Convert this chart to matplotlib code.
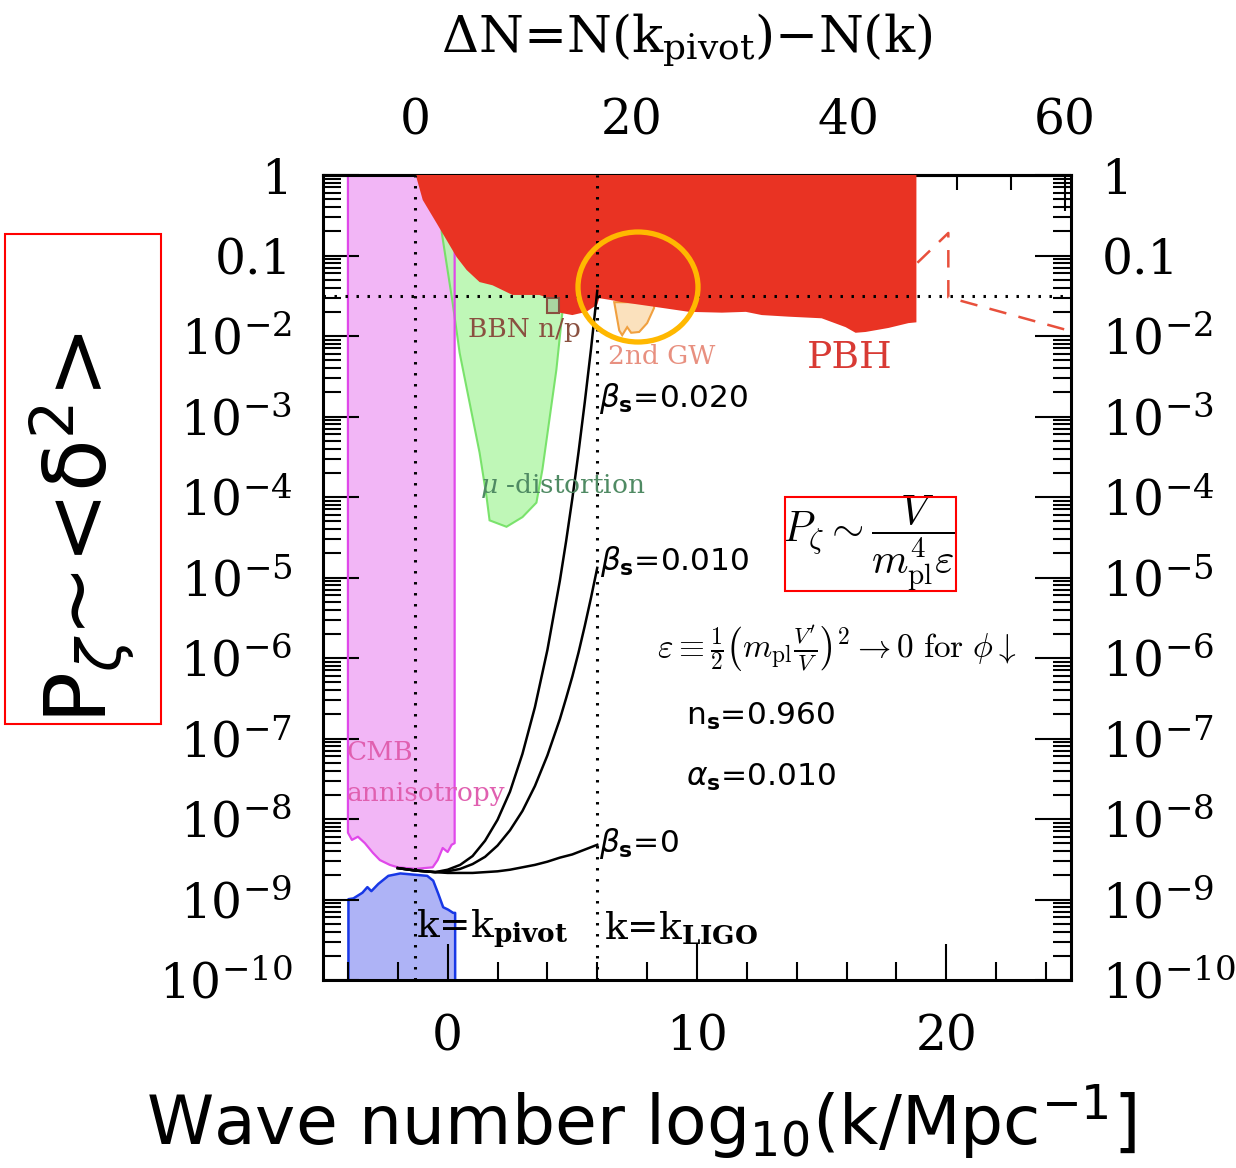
import matplotlib
matplotlib.use("Agg")
import matplotlib.pyplot as plt
import matplotlib.ticker as ticker
from matplotlib.patches import Rectangle, Ellipse
import numpy as np

plt.rcParams['font.family'] = 'DejaVu Serif'
plt.rcParams['mathtext.fontset'] = 'dejavuserif'

# ---- data: x = log10(k/Mpc^-1), y = log10(P_zeta) ----
# CMB anisotropy (upper band), lower edge
cmb_x = [-4.0, -3.84, -3.6, -3.32, -3.0, -2.72, -2.32, -2.0, -1.3, -0.6, -0.4, -0.2, 0.0, 0.16, 0.28]
cmb_lo = [-8.17, -8.26, -8.22, -8.30, -8.42, -8.51, -8.57, -8.60, -8.62, -8.60, -8.51, -8.36, -8.41, -8.32, -8.30]

# lower blue band, upper edge
blue_x = [-4.0, -3.8, -3.44, -3.24, -3.08, -2.8, -2.4, -1.92, -0.84, -0.6, -0.4, -0.2, 0.0, 0.2, 0.28]
blue_hi = [-8.99, -8.98, -8.91, -8.84, -8.89, -8.80, -8.70, -8.67, -8.70, -8.76, -8.92, -9.09, -9.12, -9.16, -9.16]

# mu-distortion (closed outline)
mu_x = [-0.24, 0.2, 0.48, 0.88, 1.28, 1.56, 1.68, 2.36, 3.0, 3.56, 3.8, 4.08, 4.36, 4.6, 4.6, -0.24]
mu_y = [-0.71, -1.59, -2.21, -2.83, -3.45, -4.0, -4.29, -4.37, -4.25, -4.07, -3.66, -3.04, -2.42, -1.71, -1.2, -0.6]

# BBN n/p box
bbn_x = [4.0, 4.48, 4.48, 4.0, 4.0]
bbn_y = [-1.53, -1.53, -1.71, -1.71, -1.53]

# 2nd order GW
gw_x = [6.68, 6.88, 7.0, 7.2, 7.36, 7.68, 8.0, 8.28, 8.28]
gw_y = [-1.58, -1.93, -1.99, -1.89, -1.96, -1.95, -1.84, -1.65, -1.58]

# PBH lower edge
pbh_x = [-1.28, -1.0, -0.44, -0.04, 0.36, 0.76, 1.28, 1.8, 2.6, 3.68, 3.96, 4.48, 5.0, 5.56,
         6.0, 6.08, 6.48, 7.0, 8.36, 9.68, 11.0, 11.96, 12.6, 13.68, 15.0, 15.96, 16.36,
         16.76, 17.68, 18.48, 18.8]
pbh_lo = [0.0, -0.31, -0.60, -0.81, -1.02, -1.18, -1.33, -1.37, -1.49, -1.49, -1.52, -1.71, -1.74, -1.70,
          -1.61, -1.53, -1.55, -1.58, -1.64, -1.70, -1.71, -1.70, -1.74, -1.76, -1.78, -1.89, -1.96,
          -1.95, -1.90, -1.84, -1.83]

# PBH dashed extension
pbhd_x = [18.84, 20.08, 20.08, 24.88]
pbhd_y = [-1.09, -0.72, -1.52, -1.93]

# running spectra, n_s=0.960, alpha_s=0.010
run_x = [-2.0, -1.3, -0.5, 0.0, 0.5, 1.0, 1.5, 2.0, 2.5, 3.0, 3.5, 4.0, 4.5, 4.75, 5.0, 5.25, 5.5, 5.75, 6.0]
beta0 = [-8.61, -8.64, -8.66, -8.67, -8.67, -8.67, -8.66, -8.65, -8.63, -8.60, -8.57, -8.53, -8.48, -8.46,
         -8.44, -8.41, -8.38, -8.35, -8.32]
beta1 = [-8.61, -8.64, -8.66, -8.65, -8.62, -8.56, -8.47, -8.33, -8.14, -7.90, -7.59, -7.21, -6.76, -6.50,
         -6.23, -5.93, -5.60, -5.25, -4.88]
beta2 = [-8.61, -8.64, -8.66, -8.63, -8.57, -8.46, -8.27, -8.01, -7.66, -7.19, -6.61, -5.90, -5.04, -4.55,
         -4.02, -3.44, -2.82, -2.16, -1.44]

k_pivot = -1.3
k_ligo = 6.0
p_line = -1.5


def P(v):
    return 10.0 ** np.asarray(v)


W, H = 1236, 1168
fig = plt.figure(figsize=(W / 100, H / 100), dpi=100)
ax = fig.add_axes([323 / W, 1 - 980 / H, (1071 - 323) / W, (980 - 175) / H])
ax.set_yscale('log')
ax.set_xlim(-5, 25)
ax.set_ylim(1e-10, 1)

# regions
ax.fill_between(cmb_x, P(cmb_lo), 1.0, facecolor='#f2b6f6', edgecolor='none', zorder=1)
ax.fill_between(blue_x, 1e-10, P(blue_hi), facecolor='#aeb3f6', edgecolor='#1838e6', lw=1.8, zorder=1)
ax.fill(mu_x, P(mu_y), facecolor='#b8f7b0', edgecolor='#6fe060', lw=1.5, alpha=0.9, zorder=2)
ax.plot([cmb_x[0]] + cmb_x + [cmb_x[-1]], [1.0] + list(P(cmb_lo)) + [1.0], color='#e048ea', lw=1.6, zorder=2)
ax.fill(gw_x, P(gw_y), facecolor='#fbe1bd', edgecolor='#f0a040', lw=1.5, zorder=2)
ax.fill_between(pbh_x, P(pbh_lo), 1.0, facecolor='#e93323', edgecolor='none', zorder=3)
ax.fill(bbn_x, P(bbn_y), facecolor='#a9d5a0', edgecolor='#8a5040', lw=1.5, zorder=3)
ax.plot(pbhd_x, P(pbhd_y), color='#e8503c', lw=1.8, dashes=(7, 5), zorder=3)

# dotted guides
dot = dict(color='black', lw=2.2, linestyle=(0, (0.8, 2.8)), zorder=4)
ax.axvline(k_pivot, **dot)
ax.axvline(k_ligo, **dot)
ax.axhline(10 ** p_line, **dot)

# spectra
for b in (beta0, beta1, beta2):
    ax.plot(run_x, P(b), color='black', lw=1.8, zorder=5)

# ticks
ax.xaxis.set_major_locator(ticker.MultipleLocator(10))
ax.xaxis.set_minor_locator(ticker.MultipleLocator(2))
ax.yaxis.set_major_locator(ticker.LogLocator(base=10, numticks=20))
ax.yaxis.set_minor_locator(ticker.LogLocator(base=10, subs=np.arange(2, 10), numticks=20))
ax.yaxis.set_minor_formatter(ticker.NullFormatter())


def ylab(v, pos):
    e = int(round(np.log10(v)))
    if e == 0:
        return '1'
    if e == -1:
        return '0.1'
    return r'$10^{%d}$' % e


ax.yaxis.set_major_formatter(ticker.FuncFormatter(ylab))
ax.xaxis.set_major_formatter(ticker.FuncFormatter(lambda v, p: '%d' % v))
ax.tick_params(which='both', direction='in', left=True, right=True, top=False, bottom=True,
               labelright=True, labelsize=35, width=1.5)
ax.tick_params(which='major', length=26)
ax.tick_params(which='minor', length=13)
ax.tick_params(axis='y', pad=22)
ax.tick_params(axis='x', pad=24)
for s in ax.spines.values():
    s.set_linewidth(2.2)

top = ax.secondary_xaxis('top', functions=(lambda x: np.log(10) * (x - k_pivot),
                                           lambda n: n / np.log(10) + k_pivot))
top.xaxis.set_major_locator(ticker.MultipleLocator(20))
top.xaxis.set_minor_locator(ticker.MultipleLocator(5))
top.xaxis.set_major_formatter(ticker.FuncFormatter(lambda v, p: '%d' % v))
top.tick_params(which='both', direction='in', labelsize=35, width=1.5, pad=22)
top.tick_params(which='major', length=26)
top.tick_params(which='minor', length=11)
top.spines['top'].set_linewidth(2.2)

# annotations
ax.text(0.8, 10 ** -1.92, 'BBN n/p', color='#8a5040', fontsize=19, va='center', zorder=6)
ax.text(6.45, 10 ** -2.25, '2nd GW', color='#e89080', fontsize=19, va='center', zorder=6)
ax.text(14.4, 10 ** -2.27, 'PBH', color='#d83a34', fontsize=27, va='center', zorder=6)
ax.text(1.28, 10 ** -3.86, r'$\mu$ -distortion', color='#4f8a63', fontsize=19, va='center', zorder=6)
ax.text(-4.05, 10 ** -7.18, 'CMB', color='#e060b0', fontsize=19, va='center', zorder=6)
ax.text(-4.05, 10 ** -7.68, 'annisotropy', color='#e060b0', fontsize=19, va='center', zorder=6)

sans = dict(family='DejaVu Sans', math_fontfamily='dejavusans', fontsize=22.5, va='center', zorder=6)
ax.text(6.05, 10 ** -2.78, r'$\beta_\mathbf{s}$=0.020', **sans)
ax.text(6.1, 10 ** -4.8, r'$\beta_\mathbf{s}$=0.010', **sans)
ax.text(6.05, 10 ** -8.3, r'$\beta_\mathbf{s}$=0', **sans)
ax.text(9.55, 10 ** -6.72, r'n$_\mathbf{s}$=0.960', **sans)
ax.text(9.55, 10 ** -7.48, r'$\alpha_\mathbf{s}$=0.010', **sans)

ax.text(-1.25, 10 ** -9.37, r'k=k$_\mathbf{pivot}$', fontsize=27, va='center', zorder=6)
ax.text(6.25, 10 ** -9.37, r'k=k$_\mathbf{LIGO}$', fontsize=27, va='center', zorder=6)

ax.text(16.9, 10 ** -4.58, r'$P_\zeta \sim \dfrac{V}{m_{\rm pl}^4\varepsilon}$', math_fontfamily='cm',
        fontsize=30, ha='center', va='center', zorder=6)
ax.text(8.4, 10 ** -5.9, r'$\varepsilon \equiv \frac{1}{2}\left(m_{\rm pl}\frac{V^\prime}{V}\right)^2 \rightarrow 0\ {\rm for}\ \phi\downarrow$',
        math_fontfamily='cm', fontsize=24, va='center', zorder=6)

fig.add_artist(Rectangle((785 / W, 1 - 591 / H), 171 / W, 94 / H, transform=fig.transFigure,
                         fill=False, edgecolor='red', lw=1.5))
fig.add_artist(Ellipse((638 / W, 1 - 287 / H), 120 / W, 110 / H, transform=fig.transFigure,
                       fill=False, edgecolor='#ffb800', lw=3.8, zorder=10))

# axis titles
fig.text(687 / W, 1 - 40 / H, r'$\Delta$N=N(k$_{\rm pivot}$)$-$N(k)', fontsize=37, ha='center', va='center')
fig.text(641 / W, 1 - 1122 / H, r'Wave number log$_{10}$(k/Mpc$^{-1}$]', family='DejaVu Sans',
         math_fontfamily='dejavusans', fontsize=49, ha='center', va='center')
fig.text(82 / W, 1 - 528 / H, r'P$_\zeta$~<δ$^2$>', family='DejaVu Sans', math_fontfamily='dejavusans',
         fontsize=62, rotation=90, ha='center', va='center')
fig.add_artist(Rectangle((5 / W, 1 - 724 / H), 156 / W, 490 / H, transform=fig.transFigure,
                         fill=False, edgecolor='red', lw=1.5))

fig.savefig('out.png', dpi=100)
